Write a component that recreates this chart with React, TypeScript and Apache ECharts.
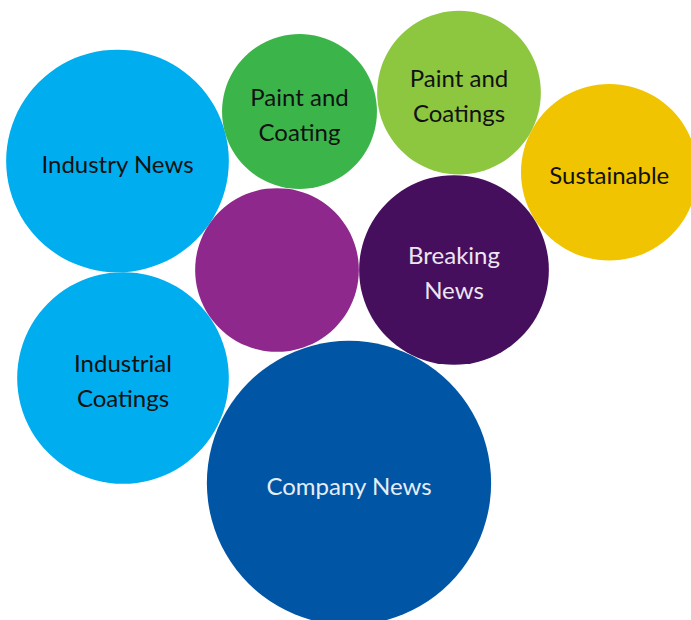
import React, { useEffect, useRef } from "react";
import * as echarts from "echarts";

const names = [
  "Industry News",
  "Paint and\nCoating",
  "Paint and\nCoatings",
  "Sustainable",
  "",
  "Breaking\nNews",
  "Industrial\nCoatings",
  "Company News",
];
const counts = [124, 60, 67, 78, 67, 90, 112, 202];
const xs = [117.5, 299.5, 459, 609.3, 277, 454, 123, 349];
const ys = [161, 111.5, 92.7, 172.3, 270, 270, 378, 483];
const colors = ["#00ADEE", "#3BB54A", "#8DC63F", "#F0C400", "#8F288C", "#460F5E", "#00ADEE", "#0055A5"];
const textColors = ["#111", "#111", "#111", "#111", "#fff", "#ece6f2", "#111", "#e6edf5"];

export default function App() {
  const ref = useRef<HTMLDivElement>(null);
  useEffect(() => {
    document.body.style.margin = "0";
    const chart = echarts.init(ref.current!, null, { renderer: "svg" });
    const data = names.map((n, i) => ({
      name: n,
      value: [xs[i], ys[i], counts[i]],
      itemStyle: { color: colors[i] },
      label: { color: textColors[i] },
    }));
    chart.setOption({
      animation: false,
      grid: { left: 0, top: 0, right: 0, bottom: 0 },
      xAxis: { type: "value", min: 0, max: 691, show: false },
      yAxis: { type: "value", min: 0, max: 620, inverse: true, show: false },
      series: [
        {
          type: "scatter",
          clip: false,
          data,
          symbolSize: (v: number[]) => 20 * Math.sqrt(v[2]),
          itemStyle: { opacity: 1 },
          label: {
            show: true,
            position: "inside",
            offset: [0, 2],
            formatter: (p: any) => p.name,
            fontFamily: "Lato",
            fontSize: 24,
            lineHeight: 35,
          },
        },
      ],
    });
    return () => chart.dispose();
  }, []);
  return <div ref={ref} style={{ position: "absolute", left: 0, top: 0, width: 691, height: 620 }} />;
}
